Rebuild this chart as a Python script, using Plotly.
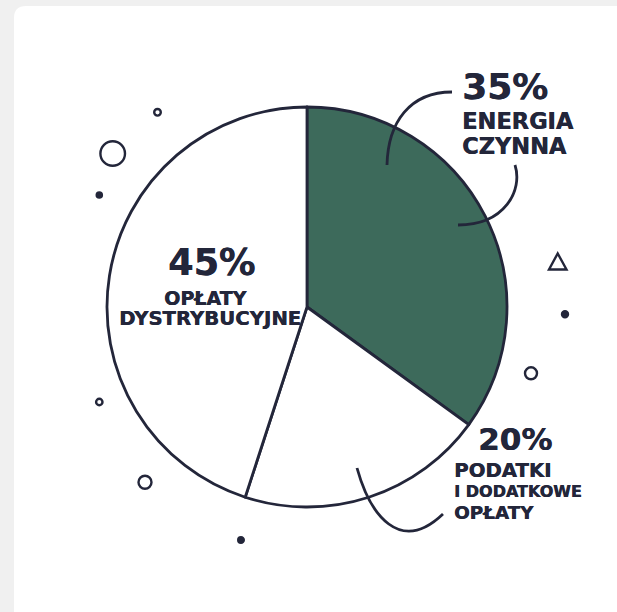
import plotly.graph_objects as go

# ---- data ----
labels = ["ENERGIA CZYNNA", "PODATKI I DODATKOWE OPŁATY", "OPŁATY DYSTRYBUCYJNE"]
values = [35, 20, 45]
slice_colors = ["#3d6a5b", "#ffffff", "#ffffff"]
pct_labels = ["35%", "20%", "45%"]

W, H = 617, 612
INK = "#23263a"
FONT = "DejaVu Sans"

fig = go.Figure()

# pie
cx, cy, r = 307, 307, 200
fig.add_trace(go.Pie(
    labels=labels, values=values, sort=False, direction="clockwise", rotation=0,
    marker=dict(colors=slice_colors, line=dict(color=INK, width=2.8)),
    textinfo="none", hoverinfo="label+percent", showlegend=False,
    domain=dict(x=[(cx - r) / W, (cx + r) / W], y=[1 - (cy + r) / H, 1 - (cy - r) / H]),
))

# invisible pixel axes for decorations
fig.update_xaxes(range=[0, W], visible=False, fixedrange=True)
fig.update_yaxes(range=[H, 0], visible=False, fixedrange=True)

shapes = []
# white card with rounded corner
shapes.append(dict(type="path", xref="x", yref="y", layer="below",
                   path="M 14 640 L 14 18 Q 14 6 26 6 L 640 6 L 640 640 Z",
                   fillcolor="#ffffff", line=dict(width=0)))

def circ(x, y, rad, filled):
    return dict(type="circle", xref="x", yref="y", x0=x - rad, x1=x + rad, y0=y - rad, y1=y + rad,
                line=dict(color=INK, width=2.4), fillcolor=INK if filled else "rgba(0,0,0,0)",
                layer="above")

shapes += [
    circ(157.5, 112.3, 3.3, False),
    circ(112.7, 153.5, 12.3, False),
    circ(99.3, 195, 2.6, True),
    circ(565, 314.3, 3.0, True),
    circ(531, 373.3, 6.0, False),
    circ(99.3, 402, 3.2, False),
    circ(145, 482.3, 6.5, False),
    circ(241, 540, 2.8, True),
]
# triangle
shapes.append(dict(type="path", xref="x", yref="y", layer="above",
                   path="M 549 269.5 L 566.5 269.5 L 557.7 253.5 Z",
                   line=dict(color=INK, width=2.4), fillcolor="rgba(0,0,0,0)"))
# leader curves
for p in ["M 387 165 C 388 122, 410 92, 452 92",
          "M 515 165 C 523 190, 505 225, 458 225",
          "M 357 468 C 370 515, 400 555, 443 514"]:
    shapes.append(dict(type="path", xref="x", yref="y", layer="above", path=p,
                       line=dict(color=INK, width=2.8)))

fig.update_layout(shapes=shapes)

def ann(text, x, y, size, xanchor):
    fig.add_annotation(text=f"<b>{text}</b>", x=x, y=y, xref="x", yref="y", showarrow=False,
                       xanchor=xanchor, yanchor="middle",
                       font=dict(family=FONT, size=size, color=INK,
                                 shadow=f"0.5px 0 0 {INK}"))

# 35%
ann(pct_labels[0], 460, 86, 36, "left")
ann("ENERGIA", 460, 121, 22.5, "left")
ann("CZYNNA", 460, 146, 22.5, "left")
# 45%
ann(pct_labels[2], 211, 262, 36.5, "center")
ann("OPŁATY", 205, 298, 19, "center")
ann("DYSTRYBUCYJNE", 210, 318, 19.7, "center")
# 20%
ann(pct_labels[1], 515, 439, 31, "center")
ann("PODATKI", 452, 470, 19.7, "left")
ann("I DODATKOWE", 452, 491.5, 16, "left")
ann("OPŁATY", 452, 512, 18.3, "left")

fig.update_layout(width=W, height=H, margin=dict(l=0, r=0, t=0, b=0),
                  paper_bgcolor="#f0f0f0", plot_bgcolor="rgba(0,0,0,0)",
                  showlegend=False)

fig.write_html("out.html", config={"displayModeBar": False},
               post_script="document.body.style.margin='0';document.body.style.overflow='hidden';")
